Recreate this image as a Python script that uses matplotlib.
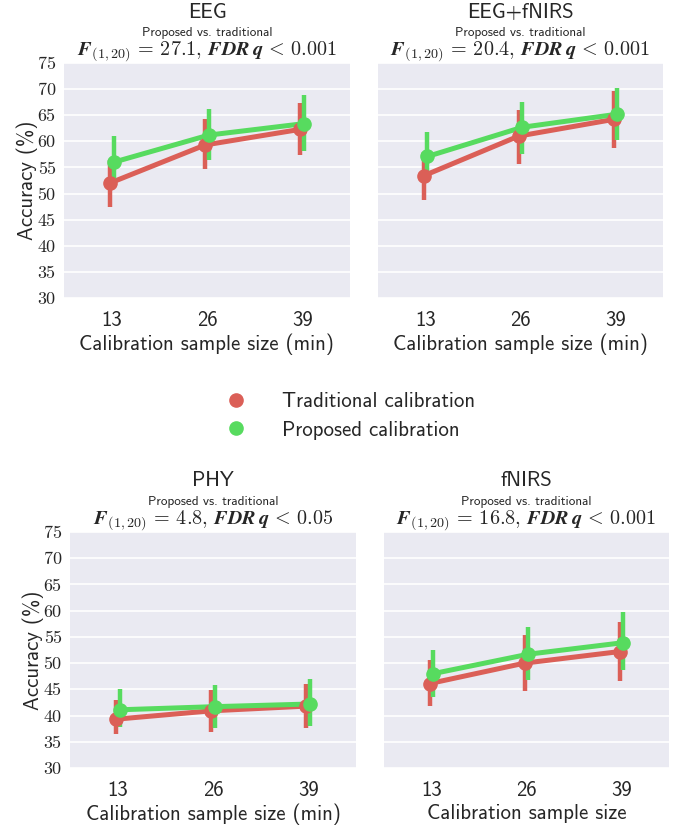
import numpy as np
import matplotlib.pyplot as plt
import seaborn as sns

sns.set_style("darkgrid")

sizes = ["13", "26", "39"]
y_ticks = [30, 35, 40, 45, 50, 55, 60, 65, 70, 75]

panels = ["EEG", "EEG+fNIRS", "PHY", "fNIRS"]
f_values = ["27.1", "20.4", "4.8", "16.8"]
q_values = ["0.001", "0.001", "0.05", "0.001"]
x_labels = ["Calibration sample size (min)", "Calibration sample size (min)",
            "Calibration sample size (min)", "Calibration sample size"]

# traditional calibration: mean and CI per panel
trad_mean = [[52.0, 59.3, 62.3], [53.4, 61.0, 64.2], [39.3, 40.9, 41.8], [46.1, 50.0, 52.2]]
trad_low = [[47.5, 54.7, 57.3], [48.8, 55.6, 58.7], [36.4, 36.9, 37.7], [41.9, 44.6, 46.5]]
trad_high = [[56.5, 64.2, 67.4], [58.0, 66.0, 69.6], [42.9, 44.8, 46.0], [50.5, 55.4, 57.9]]

# proposed calibration
prop_mean = [[56.0, 61.2, 63.4], [57.1, 62.7, 65.2], [41.1, 41.7, 42.2], [48.0, 51.7, 53.9]]
prop_low = [[51.4, 56.5, 58.2], [52.3, 57.5, 60.2], [37.8, 37.7, 38.0], [43.6, 46.8, 48.6]]
prop_high = [[61.0, 66.1, 68.8], [61.8, 67.5, 70.3], [45.0, 45.8, 47.0], [52.5, 56.8, 59.8]]

RED, GREEN = sns.color_palette("hls", 3)[:2]
W, H = 673, 832

# axes boxes in pixels: left, top, right, bottom
boxes = [(64, 63, 350, 298), (378, 63, 663, 298),
         (70, 532, 356, 768), (384, 532, 669, 768)]

fig = plt.figure(figsize=(W / 100, H / 100), dpi=100)

for i, (l, t, r, b) in enumerate(boxes):
    ax = fig.add_axes([l / W, 1 - b / H, (r - l) / W, (b - t) / H])
    ax.set_facecolor("#EAEAF2")
    x = np.arange(len(sizes))
    for mean, lo, hi, col, off in [(trad_mean, trad_low, trad_high, RED, -0.02),
                                    (prop_mean, prop_low, prop_high, GREEN, 0.02)]:
        xs = x + off
        ax.plot(xs, mean[i], color=col, lw=3.6, zorder=3)
        ax.vlines(xs, lo[i], hi[i], color=col, lw=3.2, zorder=3)
        ax.plot(xs, mean[i], "o", color=col, ms=9.5, zorder=4)
    ax.set_xlim(-0.5, 2.5)
    ax.set_ylim(30, 75)
    ax.set_yticks(y_ticks)
    ax.grid(axis="x", visible=False)
    ax.grid(axis="y", color="white", lw=1.2)
    for s in ax.spines.values():
        s.set_visible(False)
    ax.tick_params(axis="x", length=0, pad=9)
    ax.tick_params(axis="y", length=0, pad=6)
    ax.set_xticks(x)
    ax.set_xticklabels(sizes, fontfamily="cmss10", fontsize=15)
    ax.set_xlabel(x_labels[i], fontfamily="cmss10", fontsize=15, labelpad=3)
    if i % 2 == 0:
        ax.set_yticklabels([str(v) for v in y_ticks], fontfamily="cmr10", fontsize=13)
        ax.set_ylabel("Accuracy (%)", fontfamily="cmss10", fontsize=15, labelpad=0)
    else:
        ax.set_yticklabels([])
    cx = (l + r) / 2 / W
    dy = (t - 63) / H
    fig.text(cx, 1 - 12 / H - dy, panels[i], fontfamily="cmss10",
             fontsize=15, ha="center", va="center")
    fig.text(cx, 1 - 33 / H - dy, "Proposed vs. traditional",
             fontfamily="cmss10", fontsize=9.5, ha="center", va="center")
    fig.text(cx, 1 - 54 / H - dy,
             r"$\mathbfit{F}_{\mathbf{(1,20)}}\,=\,\mathbf{%s},\,\mathbfit{FDR}\,\mathbfit{q}\,<\,\mathbf{%s}$"
             % (f_values[i], q_values[i]),
             math_fontfamily="cm", fontsize=14.5, ha="center", va="baseline")

# legend
leg_labels = ["Traditional calibration", "Proposed calibration"]
handles = [plt.Line2D([], [], ls="", marker="o", color=c, ms=9.5) for c in (RED, GREEN)]
fig.legend(handles, leg_labels, loc="center", bbox_to_anchor=(345 / W, 1 - 416 / H),
           frameon=False, prop={"family": "cmss10", "size": 15},
           handletextpad=1.2, labelspacing=0.45)

fig.savefig("out.png", dpi=100)
